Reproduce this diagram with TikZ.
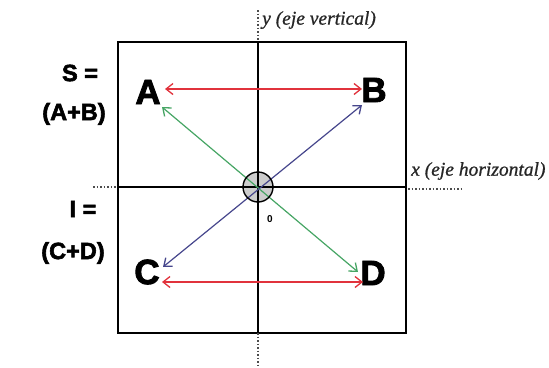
\documentclass[tikz,border=0pt]{standalone}
\usepackage{fontspec}
\setmainfont{Liberation Serif}
\newfontfamily\lsans{Liberation Sans}
\newfontfamily\lsansheavy[FakeBold=2.5]{Liberation Sans Bold}
\newfontfamily\lserifit[FakeBold=0.8]{Liberation Serif Italic}
\usetikzlibrary{arrows.meta}
\definecolor{redarr}{RGB}{225,50,60}
\definecolor{greenarr}{RGB}{70,165,100}
\definecolor{bluearr}{RGB}{70,70,140}
\tikzset{
  axisline/.style={line width=2pt,black},
  dotline/.style={line width=1.6pt,black!70,dash pattern=on 1.5pt off 2pt},
  dblarrow/.style={line width=1.5pt,{Straight Barb[length=7pt,width=11pt,line width=1.3pt]}-{Straight Barb[length=7pt,width=11pt,line width=1.3pt]}},
  biglet/.style={font=\lsansheavy\fontsize{35}{35}\selectfont,inner sep=0pt},
  sumlab/.style={font=\lsansheavy\fontsize{23.5}{24}\selectfont,inner sep=0pt},
  axlab/.style={font=\lserifit\fontsize{19.5}{19.5}\selectfont,inner sep=0pt,anchor=west,text=black!85},
}
\begin{document}
\begin{tikzpicture}[x=1pt,y=-1pt]
\useasboundingbox (0,0) rectangle (549,367);
% coordinates
\coordinate (tl) at (118,42);
\coordinate (br) at (406,333);
\coordinate (o) at (258,187);
\coordinate (ytop) at (258,10);
\coordinate (ybox) at (258,42);
\coordinate (ybot) at (258,333);
\coordinate (yend) at (258,367);
\coordinate (xl) at (93,187);
\coordinate (xbl) at (118,187);
\coordinate (xbr) at (406,187);
\coordinate (xr) at (462,189);
\coordinate (xbr2) at (408,189);
% box and axes
\draw[axisline] (tl) rectangle (br);
\draw[dotline] (ytop) -- (ybox);
\draw[dotline] (ybot) -- (yend);
\draw[dotline] (xl) -- (xbl);
\draw[dotline] (xbr2) -- (xr);
\fill[gray!50,fill opacity=0.8] (o) circle[radius=15pt];
\draw[axisline] (ybox) -- (ybot);
\draw[axisline] (xbl) -- (xbr);
% letters
\node[biglet] (A) at (148,92) {A};
\node[biglet] (B) at (374,90) {B};
\node[biglet] (C) at (147,272) {C};
\node[biglet] (D) at (373,273) {D};
% arrow endpoints
\coordinate (rAt) at (165,89);
\coordinate (rBt) at (362,89);
\coordinate (rCb) at (162,282);
\coordinate (rDb) at (363,282);
\coordinate (gA) at (162,107);
\coordinate (gD) at (358,272);
\coordinate (bB) at (362,105);
\coordinate (bC) at (163,267);
\draw[dblarrow,redarr] (rAt) -- (rBt);
\draw[dblarrow,redarr] (rCb) -- (rDb);
\draw[dblarrow,greenarr,line width=1.2pt] (gA) -- (gD);
\draw[dblarrow,bluearr,line width=1.2pt] (bC) -- (bB);
\draw[line width=1.4pt,black] (o) circle[radius=15pt];
\node[font=\lsans\bfseries\fontsize{10}{10}\selectfont,inner sep=0pt] (zero) at (270,219) {0};
% side labels
\node[sumlab] (S) at (80,73) {S =};
\node[sumlab] (AB) at (74,114) {(A+B)};
\node[sumlab] (I) at (83,209) {I =};
\node[sumlab] (CD) at (73,253) {(C+D)};
% axis labels
\node[axlab] (ylab) at (262,20) {y (eje vertical)};
\node[axlab] (xlab) at (411,171) {x (eje horizontal)};
\end{tikzpicture}
\end{document}
